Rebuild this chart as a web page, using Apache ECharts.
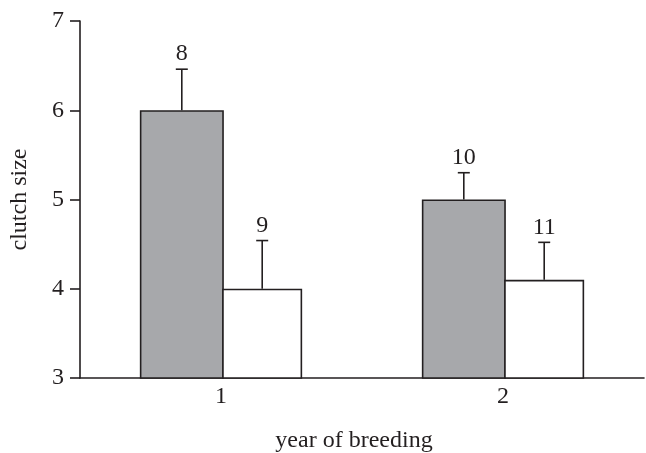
<!DOCTYPE html>
<html>
<head>
<meta charset="utf-8">
<script src="https://cdn.jsdelivr.net/npm/echarts@6/dist/echarts.min.js"></script>
<style>html,body{margin:0;padding:0;background:#fff}#c{width:646px;height:453px}</style>
</head>
<body>
<div id="c"></div>
<script>
var categories = ['1', '2'];
var yTicks = [3, 4, 5, 6, 7];
var grayMeans = [6.0, 5.0];
var grayErrors = [0.46, 0.30];
var grayN = [8, 10];
var whiteMeans = [4.0, 4.1];
var whiteErrors = [0.54, 0.42];
var whiteN = [9, 11];

var INK = '#231f20';
var FONT = 'Liberation Serif';
var GRAY_W = 84, WHITE_W = 80;
var OVERLAP = 1.6;
var TOTAL_W = GRAY_W + WHITE_W - OVERLAP;
var grayOffset = -TOTAL_W / 2 + GRAY_W / 2;
var whiteOffset = -TOTAL_W / 2 + GRAY_W - OVERLAP + WHITE_W / 2;

function errData(means, errs, ns) {
  return means.map(function (m, i) { return [i, m, errs[i], ns[i]]; });
}
function errRender(offset) {
  return function (params, api) {
    var cat = api.value(0), mean = api.value(1), err = api.value(2), n = api.value(3);
    var base = api.coord([cat, mean]);
    var top = api.coord([cat, mean + err]);
    var x = base[0] + offset;
    var cap = 6;
    var st = { stroke: INK, lineWidth: 1.6 };
    return {
      type: 'group',
      children: [
        { type: 'line', shape: { x1: x, y1: base[1], x2: x, y2: top[1] }, style: st },
        { type: 'line', shape: { x1: x - cap, y1: top[1], x2: x + cap, y2: top[1] }, style: st },
        { type: 'text', style: { text: String(n), x: x, y: top[1] - 3, textAlign: 'center', textVerticalAlign: 'bottom', fill: INK, font: '24px "' + FONT + '"' } }
      ]
    };
  };
}

var chart = echarts.init(document.getElementById('c'));
chart.setOption({
  animation: false,
  backgroundColor: '#fff',
  textStyle: { fontFamily: FONT, color: INK },
  grid: { left: 80, right: 2, top: 21, bottom: 75, containLabel: false, outerBoundsMode: 'none' },
  xAxis: {
    type: 'category',
    data: categories,
    name: 'year of breeding',
    nameLocation: 'middle',
    nameGap: 51,
    nameTextStyle: { fontSize: 24, color: INK, fontFamily: FONT, padding: [0, 16, 0, 0] },
    axisLine: { lineStyle: { color: INK, width: 1.6 } },
    axisTick: { show: false },
    axisLabel: { fontSize: 24, color: INK, fontFamily: FONT, margin: 7 },
    splitLine: { show: false }
  },
  yAxis: {
    type: 'value',
    min: yTicks[0],
    max: yTicks[yTicks.length - 1],
    interval: 1,
    name: 'clutch size',
    nameLocation: 'middle',
    nameGap: 48,
    nameRotate: 90,
    nameTextStyle: { fontSize: 24, color: INK, fontFamily: FONT },
    axisLine: { show: true, lineStyle: { color: INK, width: 1.6 } },
    axisTick: { show: true, length: 10, lineStyle: { color: INK, width: 1.6 } },
    axisLabel: { fontSize: 24, color: INK, fontFamily: FONT, margin: 16 },
    splitLine: { show: false }
  },
  series: [
    {
      type: 'bar', data: grayMeans, barWidth: GRAY_W, barGap: '-2%',
      itemStyle: { color: '#a7a8ab', borderColor: INK, borderWidth: 1.6 }
    },
    {
      type: 'bar', data: whiteMeans, barWidth: WHITE_W, barGap: '-2%',
      itemStyle: { color: '#ffffff', borderColor: INK, borderWidth: 1.6 }
    },
    {
      type: 'custom', renderItem: errRender(grayOffset),
      data: errData(grayMeans, grayErrors, grayN), z: 5
    },
    {
      type: 'custom', renderItem: errRender(whiteOffset),
      data: errData(whiteMeans, whiteErrors, whiteN), z: 5
    }
  ]
});
</script>
</body>
</html>
